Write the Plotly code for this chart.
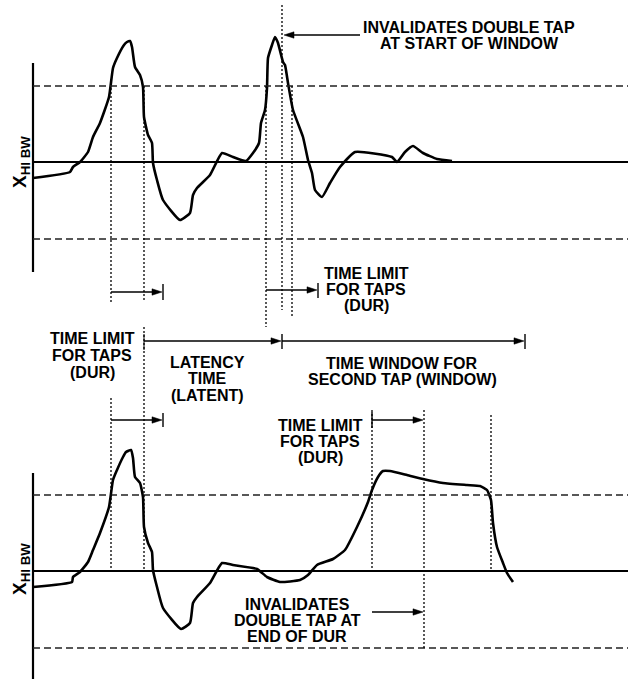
import plotly.graph_objects as go

# ---------------- data (time in diagram units, amplitude relative to 0 g line) ----------------
TOP_T = [33, 70, 73, 80, 88, 93, 100, 109, 113, 117, 124, 127, 130, 132, 135, 140, 143, 144, 148, 152,
         153, 157, 163, 180, 190, 193, 197, 210, 222, 233, 246, 253, 259, 261, 265, 267, 268, 272, 275, 278,
         283, 285, 288, 293, 303, 308, 312, 315, 322, 330, 340, 355, 392, 397, 405, 413, 423, 437, 452]
TOP_AMP = [-16, -10, -5, 0, 10, 25, 39, 65, 94, 104, 117, 120, 121, 115, 95, 87, 75, 45, 27, 19,
           -1, -18, -38, -58, -51, -33, -26, -13, 9, 5, 1, 9, 19, 39, 52, 74, 104, 117, 125, 119,
           100, 97, 79, 52, 25, 2, -11, -28, -35, -21, -5, 10, 5, 0, 10, 16, 9, 3, 1]

BOT_T = [33, 72, 73, 80, 88, 93, 100, 109, 113, 117, 123, 126, 131, 133, 135, 140, 143, 144, 148, 152,
         153, 157, 163, 181, 190, 193, 197, 210, 222, 233, 257, 267, 280, 300, 308, 317, 333, 345, 357, 368,
         372, 378, 383, 390, 407, 423, 443, 467, 480, 487, 491, 493, 497, 503, 507, 513]
BOT_AMP = [-16, -11, -6, -1, 9, 21, 38, 64, 91, 101, 114, 119, 121, 113, 94, 88, 74, 44, 28, 19,
           1, -16, -37, -58, -52, -32, -26, -12, 8, 6, 2, -6, -11, -9, -4, 6, 12, 21, 44, 69,
           81, 94, 100, 100, 96, 92, 88, 86, 85, 81, 71, 48, 24, 8, -2, -11]

THRESH_HI = 76
THRESH_LO = -77

Y_LABEL = "X<sub>HI BW</sub>"

# ---------------- layout geometry ----------------
W, H = 628, 679
AX_X = 33
TOP_BASE, BOT_BASE = 162, 571
FONT = "Liberation Sans, Arial, Helvetica, sans-serif"

fig = go.Figure()

for t, a, base in ((TOP_T, TOP_AMP, TOP_BASE), (BOT_T, BOT_AMP, BOT_BASE)):
    fig.add_trace(go.Scatter(
        x=t, y=[base - v for v in a], mode="lines",
        line=dict(color="black", width=2.6, shape="spline", smoothing=0.45),
        hoverinfo="skip", showlegend=False))

shapes = []


def line(x0, y0, x1, y1, width=1.2, dash="solid", color="black"):
    shapes.append(dict(type="line", xref="x", yref="y", x0=x0, y0=y0, x1=x1, y1=y1,
                       line=dict(color=color, width=width, dash=dash)))


def dotted(x, y0, y1):
    line(x, y0, x, y1, width=1.3, dash="2px,2px")


def arrow(x0, x1, y, L=10, Hh=3.2):
    d = 1 if x1 > x0 else -1
    line(x0, y, x1 - d * L * 0.6, y, width=1.3)
    shapes.append(dict(type="path", xref="x", yref="y",
                       path=f"M{x1 - d * L},{y - Hh} L{x1},{y} L{x1 - d * L},{y + Hh} Z",
                       fillcolor="black", line=dict(color="black", width=0.5)))


def bar(x, y0, y1):
    line(x, y0, x, y1, width=1.4)


# axes, zero lines and thresholds
for base, y0, y1 in ((TOP_BASE, 63, 272), (BOT_BASE, 473, 679)):
    line(AX_X, y0, AX_X, y1, width=2.2)
    line(AX_X, base, W, base, width=2.2)
    line(AX_X, base - THRESH_HI, W, base - THRESH_HI, width=1.5, dash="7px,4px", color="#222")
    line(AX_X, base - THRESH_LO, W, base - THRESH_LO, width=1.5, dash="7px,4px", color="#222")

# dotted time markers
dotted(111, 88, 303)
dotted(144, 86, 300)
dotted(144, 327, 572)
dotted(266, 86, 327)
dotted(282, 5, 310)
dotted(292, 86, 317)
dotted(111, 398, 572)
dotted(372, 410, 572)
dotted(424, 410, 648)
dotted(491, 415, 572)

# arrows
arrow(111, 162, 292); bar(163, 284, 300)
arrow(266, 317, 290); bar(318, 283, 298)
arrow(144, 281, 341); bar(282, 334, 349); line(144, 334, 144, 350, width=1.0)
arrow(282, 524, 341); bar(525, 334, 349)
arrow(111, 162, 420); bar(163, 413, 427)
arrow(372, 423, 420); bar(372, 412, 428)
arrow(372, 423, 612)
arrow(360, 284, 35)

fig.update_layout(shapes=shapes)

# text
texts = [
    ("INVALIDATES DOUBLE TAP", 469, 27), ("AT START OF WINDOW", 469, 43),
    ("TIME LIMIT", 366, 273), ("FOR TAPS", 366, 289), ("(DUR)", 366, 305),
    ("TIME LIMIT", 92, 338), ("FOR TAPS", 92, 355), ("(DUR)", 92, 372),
    ("LATENCY", 207, 362), ("TIME", 207, 378), ("(LATENT)", 207, 395),
    ("TIME WINDOW FOR", 402, 363), ("SECOND TAP (WINDOW)", 402, 379),
    ("TIME LIMIT", 320, 425), ("FOR TAPS", 320, 441), ("(DUR)", 320, 457),
    ("INVALIDATES", 297, 604), ("DOUBLE TAP AT", 297, 620), ("END OF DUR", 297, 636),
]
anns = []
for s, x, y in texts:
    anns.append(dict(text=s, x=x, y=y, xref="x", yref="y", showarrow=False,
                     xanchor="center", yanchor="middle",
                     font=dict(family=FONT, size=16, color="black", weight="bold")))
for y in (TOP_BASE, BOT_BASE - 2):
    anns.append(dict(text=Y_LABEL, x=21, y=y, xref="x", yref="y", showarrow=False,
                     textangle=-90, xanchor="center", yanchor="middle",
                     font=dict(family=FONT, size=19, color="black", weight="bold")))
fig.update_layout(annotations=anns)

fig.update_layout(
    width=W, height=H, autosize=False,
    margin=dict(l=0, r=0, t=0, b=0, pad=0),
    paper_bgcolor="white", plot_bgcolor="white",
    xaxis=dict(range=[0, W], visible=False, fixedrange=True),
    yaxis=dict(range=[H, 0], visible=False, fixedrange=True),
    showlegend=False,
)

fig.write_html("out.html", config={"displayModeBar": False})

# remove the browser's default page margin so the figure sits at the window's origin
with open("out.html", "r", encoding="utf-8") as f:
    html = f.read()
html = html.replace("<head>", "<head><style>html,body{margin:0;padding:0;overflow:hidden;}</style>", 1)
with open("out.html", "w", encoding="utf-8") as f:
    f.write(html)
